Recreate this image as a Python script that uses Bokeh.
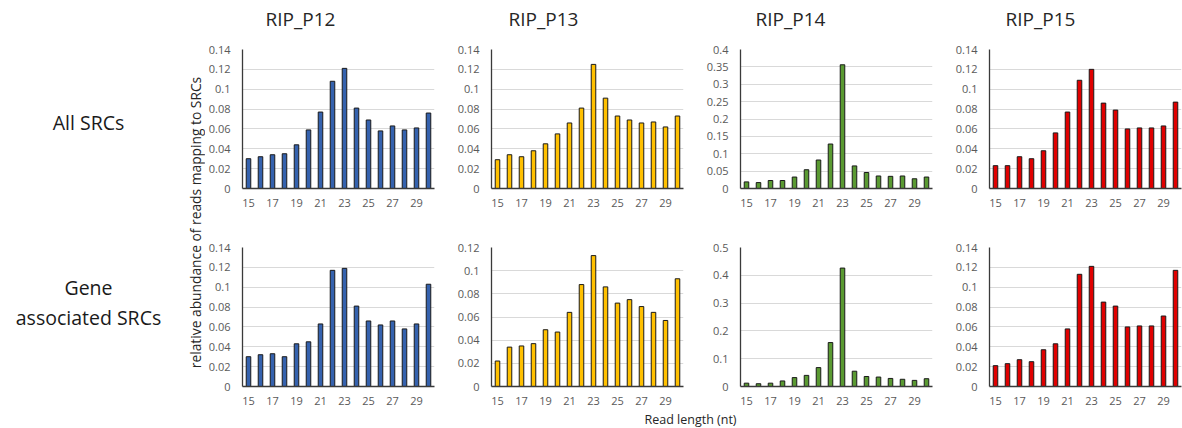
from bokeh.plotting import figure
from bokeh.layouts import row, column
from bokeh.models import Range1d, FixedTicker, CustomJSTickFormatter
from bokeh.core.properties import value
from bokeh.embed import file_html
from bokeh.resources import INLINE

# ---- data -----------------------------------------------------------------
read_length = [15, 16, 17, 18, 19, 20, 21, 22, 23, 24, 25, 26, 27, 28, 29, 30]
x_tick_labels = [15, 17, 19, 21, 23, 25, 27, 29]

samples = ["RIP_P12", "RIP_P13", "RIP_P14", "RIP_P15"]
sample_colors = ["#3562AE", "#FFC000", "#5A9A32", "#E00000"]

all_p12 = [0.030, 0.032, 0.034, 0.035, 0.044, 0.059, 0.077, 0.108, 0.121, 0.081, 0.069, 0.058, 0.063, 0.059, 0.061, 0.076]
all_p13 = [0.029, 0.034, 0.032, 0.038, 0.045, 0.055, 0.066, 0.081, 0.125, 0.091, 0.073, 0.069, 0.066, 0.067, 0.062, 0.073]
all_p14 = [0.019, 0.017, 0.023, 0.023, 0.033, 0.054, 0.082, 0.128, 0.356, 0.065, 0.046, 0.036, 0.035, 0.036, 0.028, 0.033]
all_p15 = [0.023, 0.023, 0.032, 0.030, 0.038, 0.056, 0.077, 0.109, 0.120, 0.086, 0.079, 0.060, 0.061, 0.061, 0.063, 0.087]

gene_p12 = [0.030, 0.032, 0.033, 0.030, 0.043, 0.045, 0.063, 0.117, 0.119, 0.081, 0.066, 0.062, 0.066, 0.058, 0.063, 0.103]
gene_p13 = [0.022, 0.034, 0.035, 0.037, 0.049, 0.047, 0.064, 0.088, 0.113, 0.086, 0.072, 0.075, 0.069, 0.064, 0.057, 0.093]
gene_p14 = [0.012, 0.010, 0.012, 0.020, 0.032, 0.040, 0.068, 0.158, 0.426, 0.055, 0.036, 0.034, 0.029, 0.026, 0.022, 0.028]
gene_p15 = [0.021, 0.023, 0.027, 0.025, 0.037, 0.043, 0.058, 0.113, 0.121, 0.085, 0.081, 0.060, 0.061, 0.061, 0.071, 0.117]

# y-axis extent and tick step per panel
all_ymax = [0.14, 0.14, 0.4, 0.14]
all_ystep = [0.02, 0.02, 0.05, 0.02]
gene_ymax = [0.14, 0.12, 0.5, 0.14]
gene_ystep = [0.02, 0.02, 0.1, 0.02]

row_labels = ["All SRCs", ["Gene", "associated SRCs"]]
y_label = "relative abundance of reads mapping to SRCs"
x_label = "Read length (nt)"

FONT = "Open Sans"
TICK_COLOR = "#595959"
TEXT_COLOR = "#262626"

fmt = CustomJSTickFormatter(code="return String(parseFloat(tick.toFixed(4)));")


def panel(vals, color, ymax, ystep, width, height, top, bottom, right):
    p = figure(width=width, height=height, x_range=Range1d(14.5, 30.5),
               y_range=Range1d(0, ymax), toolbar_location=None,
               output_backend="svg", min_border_left=37, min_border_right=right,
               min_border_top=top, min_border_bottom=bottom)
    p.vbar(x=read_length, top=vals, width=0.38, fill_color=color,
           line_color="#1a1a1a", line_width=1)
    n = int(round(ymax / ystep))
    p.yaxis.ticker = FixedTicker(ticks=[round(i * ystep, 4) for i in range(n + 1)])
    p.yaxis.formatter = fmt
    p.xaxis.ticker = FixedTicker(ticks=x_tick_labels)
    for ax in (p.xaxis, p.yaxis):
        ax.major_tick_line_color = None
        ax.minor_tick_line_color = None
        ax.major_tick_out = 0
        ax.major_tick_in = 0
        ax.minor_tick_out = 0
        ax.minor_tick_in = 0
        ax.major_label_text_font = FONT
        ax.major_label_text_font_size = "11px"
        ax.major_label_text_color = TICK_COLOR
        ax.axis_line_color = "#3a3a3a"
        ax.axis_line_width = 1.3
    p.yaxis.major_label_standoff = 12
    p.xaxis.major_label_standoff = 10
    p.xgrid.grid_line_color = None
    p.ygrid.grid_line_color = "#d9d9d9"
    p.ygrid.grid_line_width = 1
    p.outline_line_color = None
    p.background_fill_color = "white"
    p.border_fill_color = "white"
    return p


def blank(width, height):
    p = figure(width=width, height=height, x_range=Range1d(0, width),
               y_range=Range1d(height, 0), toolbar_location=None,
               output_backend="svg", x_axis_type=None, y_axis_type=None,
               min_border=0)
    p.grid.visible = False
    p.outline_line_color = None
    return p


panel_widths = [249, 249, 249, 230]
panel_rights = [20, 20, 20, 1]

all_vals = [all_p12, all_p13, all_p14, all_p15]
gene_vals = [gene_p12, gene_p13, gene_p14, gene_p15]

top_row = row([panel(all_vals[i], sample_colors[i], all_ymax[i], all_ystep[i],
                     panel_widths[i], 200, 19, 42, panel_rights[i]) for i in range(4)])
bottom_row = row([panel(gene_vals[i], sample_colors[i], gene_ymax[i], gene_ystep[i],
                        panel_widths[i], 181, 17, 25, panel_rights[i]) for i in range(4)])

# header with sample names
header = blank(1182, 30)
header.text(x=[300, 543, 790, 1040], y=[18] * 4, text=samples,
            text_font=value(FONT), text_font_size="19px", text_color=TEXT_COLOR,
            text_align="center", text_baseline="middle")

# left column: row labels and shared y-axis title (y coordinates measured from page y=30)
left = blank(205, 381)
left.text(x=[88, 88, 88], y=[92, 257, 287],
          text=[row_labels[0], row_labels[1][0], row_labels[1][1]],
          text_font=value(FONT), text_font_size="19.5px", text_color="#1a1a1a",
          text_align="center", text_baseline="middle")
left.text(x=[195], y=[192], text=[y_label], angle=1.5708,
          text_font=value(FONT), text_font_size="13.8px", text_color=TEXT_COLOR,
          text_align="center", text_baseline="middle")

footer = blank(1182, 17)
footer.text(x=[690], y=[8], text=[x_label], text_font=value(FONT),
            text_font_size="12.5px", text_color=TEXT_COLOR,
            text_align="center", text_baseline="middle")

layout = column([header, row([left, column([top_row, bottom_row])]), footer])

open("out.html", "w").write(file_html(layout, INLINE))
